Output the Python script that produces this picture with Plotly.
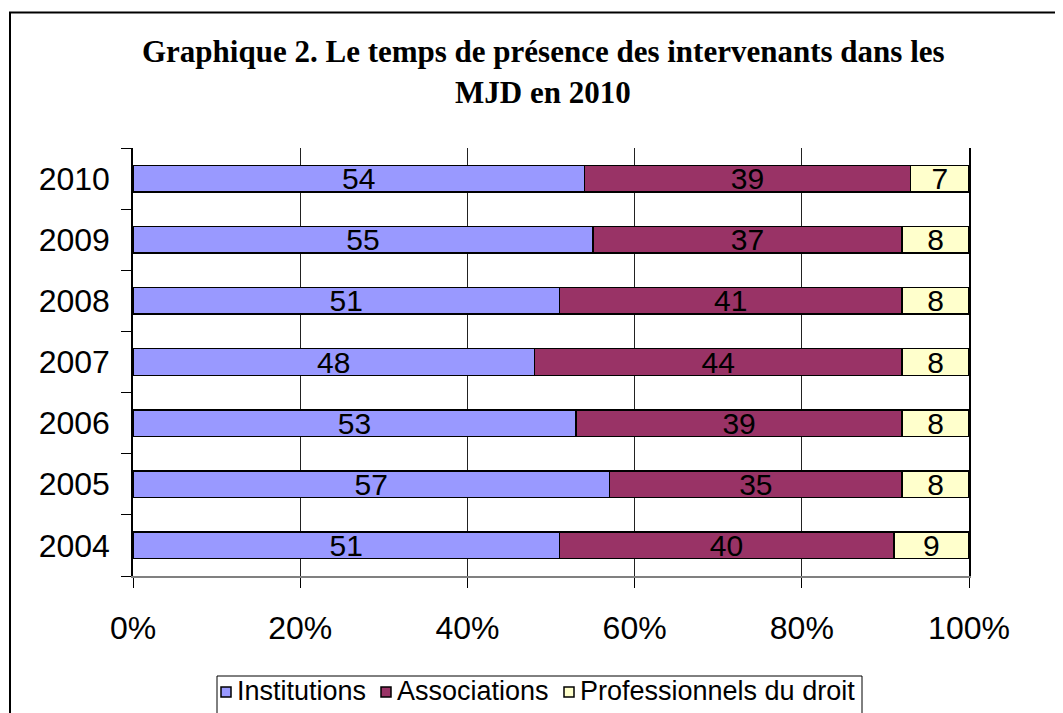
import plotly.graph_objects as go

years = ["2004", "2005", "2006", "2007", "2008", "2009", "2010"]
series_names = ["Institutions", "Associations", "Professionnels du droit"]
institutions = [51, 57, 53, 48, 51, 55, 54]
associations = [40, 35, 39, 44, 41, 37, 39]
professionnels = [9, 8, 8, 8, 8, 8, 7]
colors = ["#9999FF", "#993366", "#FFFFCC"]
x_tickvals = [0, 20, 40, 60, 80, 100]
x_ticktext = ["0%", "20%", "40%", "60%", "80%", "100%"]
title_lines = ["Graphique 2. Le temps de présence des intervenants dans les", "MJD en 2010"]

# page has an 8px body margin: work in page pixels, convert to figure pixels
OFF = 8
W, H = 1063 - OFF, 713 - OFF
L, R, T, B = 133 - OFF, 969 - OFF, 148 - OFF, 576 - OFF


def px(x):
    return (x - OFF - L) / (R - L)


def py(y):
    return (B - (y - OFF)) / (B - T)


fig = go.Figure()
for name, vals, col in zip(series_names, [institutions, associations, professionnels], colors):
    fig.add_trace(go.Bar(
        y=years, x=vals, name=name, orientation="h",
        marker=dict(color=col, line=dict(color="black", width=1.5)),
        text=[str(v) for v in vals], texttemplate="%{text}", textposition="inside",
        insidetextanchor="middle", constraintext="none", textangle=0,
        textfont=dict(family="Liberation Sans", size=30, color="black"),
        showlegend=False,
    ))

fig.update_layout(
    width=W, height=H,
    margin=dict(l=L, r=W - R, t=T, b=H - B, autoexpand=False),
    barmode="stack", bargap=0.565,
    plot_bgcolor="white", paper_bgcolor="white",
    font=dict(family="Liberation Sans", color="black"),
    xaxis=dict(range=[0, 100], tickvals=x_tickvals, ticktext=x_ticktext,
               showgrid=True, gridcolor="#222222", gridwidth=1,
               showline=True, linecolor="#808080", linewidth=2,
               ticks="outside", ticklen=10, tickcolor="black", tickwidth=1,
               tickfont=dict(size=32), ticklabelstandoff=13, zeroline=False),
    yaxis=dict(type="category", categoryorder="array", categoryarray=years,
               range=[-0.5, 6.5], showgrid=False,
               showline=True, linecolor="black", linewidth=1.5, mirror=True,
               ticks="outside", tickson="boundaries", ticklen=10,
               tickcolor="black", tickwidth=1,
               tickfont=dict(size=32), ticklabelstandoff=15),
)

# Title (two lines)
title_y = [52, 93]
for line, yy in zip(title_lines, title_y):
    fig.add_annotation(text="<b>%s</b>" % line, x=px(543), y=py(yy), xref="paper", yref="paper",
                       xanchor="center", yanchor="middle", showarrow=False,
                       font=dict(family="Liberation Serif", size=31, color="black"))

# Outer frame (left and top edges visible)
fig.add_shape(type="line", xref="paper", yref="paper", x0=px(10), y0=py(730), x1=px(10), y1=py(12.5),
              line=dict(color="black", width=2))
fig.add_shape(type="line", xref="paper", yref="paper", x0=px(9), y0=py(12.5), x1=px(1080), y1=py(12.5),
              line=dict(color="black", width=2))

# Legend box
fig.add_shape(type="rect", xref="paper", yref="paper", x0=px(217), y0=py(730), x1=px(862), y1=py(676),
              line=dict(color="black", width=1), fillcolor="white")
sq_x = [221, 381, 564]
txt_x = [235, 395, 578]
leg_y = 691
for name, col, sx, tx in zip(series_names, colors, sq_x, txt_x):
    fig.add_shape(type="rect", xref="paper", yref="paper", x0=px(sx), x1=px(sx + 10),
                  y0=py(leg_y + 6), y1=py(leg_y - 4), line=dict(color="black", width=1.5), fillcolor=col)
    fig.add_annotation(text=name, x=px(tx), y=py(leg_y), xref="paper", yref="paper",
                       xanchor="left", yanchor="middle", showarrow=False,
                       font=dict(family="Liberation Sans", size=27, color="black"))

fig.write_html("out.html")
